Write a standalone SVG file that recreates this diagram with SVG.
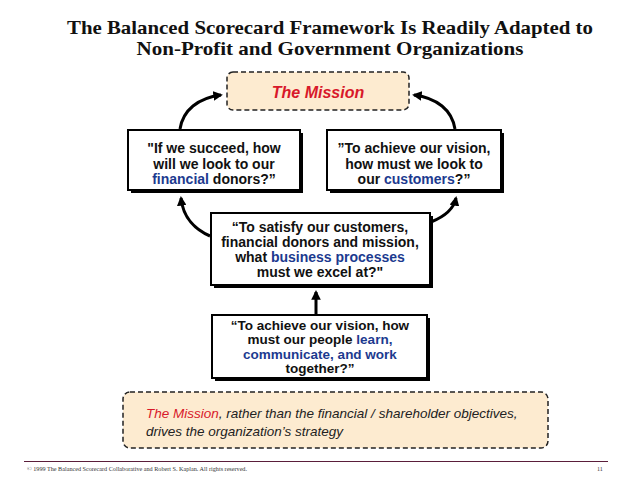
<svg xmlns="http://www.w3.org/2000/svg" width="638" height="479" viewBox="0 0 638 479">
<defs>
<style>
.title{font-family:"Liberation Serif",serif;font-weight:bold;font-size:19px;fill:#111;text-anchor:middle}
.q{font-family:"Liberation Sans",Arial,sans-serif;font-weight:bold;font-size:14px;fill:#111;text-anchor:middle}
.q2{font-family:"Liberation Sans",Arial,sans-serif;font-weight:bold;font-size:13.5px;fill:#111;text-anchor:middle}
.blue{fill:#1c3a8f}
.red{fill:#d8182a}
.box{fill:#fff;stroke:#000;stroke-width:2}
.shadow{fill:#000}
.dash{fill:#fdebd0;stroke:#222;stroke-width:1.5;stroke-dasharray:5 3}
.conn{fill:none;stroke:#000;stroke-width:3}
.note{font-family:"Liberation Sans",Arial,sans-serif;font-style:italic;font-size:13.5px;fill:#222}
.foot{font-family:"Liberation Serif",serif;font-size:6px;fill:#333}
</style>
<marker id="ah" viewBox="0 0 10 10" refX="8" refY="5" markerWidth="3.2" markerHeight="3.2" orient="auto">
<path d="M0,0 L10,5 L0,10 z" fill="#000"/>
</marker>
</defs>
<rect width="638" height="479" fill="#fff"/>
<g id="title">
<text class="title" x="330" y="34" textLength="526" lengthAdjust="spacingAndGlyphs">The Balanced Scorecard Framework Is Readily Adapted to</text>
<text class="title" x="330" y="55" textLength="387" lengthAdjust="spacingAndGlyphs">Non-Profit and Government Organizations</text>
</g>
<g id="connectors">
<path class="conn" d="M180,129 C183,110 198,98 221,95" marker-end="url(#ah)"/>
<path class="conn" d="M455,129 C452,110 437,98 414,95" marker-end="url(#ah)"/>
<path class="conn" d="M210,236 C196,230 183,218 181,198" marker-end="url(#ah)"/>
<path class="conn" d="M431,222 C446,216 454,208 456,198" marker-end="url(#ah)"/>
<path class="conn" d="M316,314 L316,292" marker-end="url(#ah)"/>
</g>
<g id="mission">
<rect class="dash" x="227" y="72" width="182" height="38" rx="6"/>
<text x="318" y="98" text-anchor="middle" style="font-family:'Liberation Sans',Arial,sans-serif;font-weight:bold;font-style:italic;font-size:16px" class="red">The Mission</text>
</g>
<g id="financial">
<rect class="shadow" x="131" y="133" width="172" height="60"/>
<rect class="box" x="128" y="130" width="172" height="60"/>
<text class="q" x="214" y="153">"If we succeed, how</text>
<text class="q" x="214" y="168.5">will we look to our</text>
<text class="q" x="214" y="184"><tspan class="blue">financial</tspan> donors?”</text>
</g>
<g id="customers">
<rect class="shadow" x="330" y="133" width="174" height="60"/>
<rect class="box" x="327" y="130" width="174" height="60"/>
<text class="q" x="414" y="153">”To achieve our vision,</text>
<text class="q" x="414" y="168.5">how must we look to</text>
<text class="q" x="414" y="184">our <tspan class="blue">customers</tspan>?”</text>
</g>
<g id="process">
<rect class="shadow" x="214" y="216" width="219" height="72"/>
<rect class="box" x="211" y="213" width="219" height="72"/>
<text class="q" x="320" y="232">“To satisfy our customers,</text>
<text class="q" x="320" y="247">financial donors and mission,</text>
<text class="q" x="320" y="262">what <tspan class="blue">business processes</tspan></text>
<text class="q" x="320" y="277">must we excel at?"</text>
</g>
<g id="learning">
<rect class="shadow" x="215" y="318" width="215" height="63"/>
<rect class="box" x="212" y="315" width="215" height="63"/>
<text class="q2" x="320" y="329.5">“To achieve our vision, how</text>
<text class="q2" x="320" y="344">must our people <tspan class="blue">learn,</tspan></text>
<text class="q2 blue" x="320" y="358.5">communicate, and work</text>
<text class="q2" x="320" y="373">together?”</text>
</g>
<g id="note">
<rect class="dash" x="123" y="392" width="425" height="56" rx="7"/>
<text class="note" x="146" y="418"><tspan class="red">The Mission</tspan>, rather than the financial / shareholder objectives,</text>
<text class="note" x="146" y="436">drives the organization’s strategy</text>
</g>
<g id="footer">
<line x1="24" y1="461.5" x2="608" y2="461.5" stroke="#5a1e3a" stroke-width="1"/>
<text class="foot" x="27" y="471" textLength="220" lengthAdjust="spacingAndGlyphs">© 1999 The Balanced Scorecard Collaborative and Robert S. Kaplan.  All rights reserved.</text>
<text class="foot" x="597" y="471">11</text>
</g>
</svg>
